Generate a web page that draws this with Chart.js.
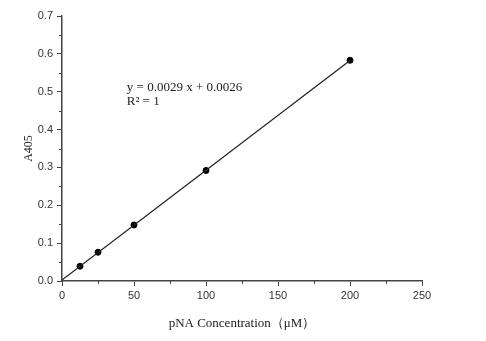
<!DOCTYPE html>
<html>
<head>
<meta charset="utf-8">
<script src="https://cdn.jsdelivr.net/npm/chart.js@4"></script>
<style>
  html, body { margin: 0; padding: 0; background: #fff; }
  #wrap { width: 486px; height: 341px; }
</style>
</head>
<body>
<div id="wrap"><canvas id="stdCurve"></canvas></div>
<script>
// pNA standard curve
var concentrations = [12.5, 25, 50, 100, 200];
var absorbance = [0.039, 0.076, 0.148, 0.292, 0.583];
var fitX = [0, 200];
var fitY = [0.0026, 0.5826];
var xTicks = [0, 50, 100, 150, 200, 250];
var yTicks = [0.0, 0.1, 0.2, 0.3, 0.4, 0.5, 0.6, 0.7];
var xMinor = [25, 75, 125, 175, 225];
var yMinor = [0.05, 0.15, 0.25, 0.35, 0.45, 0.55, 0.65];
var equationLines = ['y = 0.0029 x + 0.0026', 'R\u00b2 = 1'];

var axisColor = '#444';

var minorTicks = {
  id: 'minorTicks',
  afterDraw(chart) {
    var ctx = chart.ctx;
    var xs = chart.scales.x, ys = chart.scales.y;
    var area = chart.chartArea;
    ctx.save();
    ctx.strokeStyle = axisColor;
    ctx.lineWidth = 1;
    ctx.beginPath();
    xMinor.forEach(function (v) {
      var px = Math.round(xs.getPixelForValue(v)) + 0.5;
      ctx.moveTo(px, area.bottom);
      ctx.lineTo(px, area.bottom + 3);
    });
    yMinor.forEach(function (v) {
      var py = Math.round(ys.getPixelForValue(v)) + 0.5;
      ctx.moveTo(area.left, py);
      ctx.lineTo(area.left - 3, py);
    });
    ctx.stroke();

    // equation text
    ctx.fillStyle = '#222';
    ctx.font = '13px "Liberation Serif", "Times New Roman", serif';
    ctx.textBaseline = 'middle';
    ctx.textAlign = 'left';
    var tx = xs.getPixelForValue(45);
    var ty = ys.getPixelForValue(0.512);
    equationLines.forEach(function (t, i) {
      ctx.fillText(t, tx, ty + i * 14);
    });
    ctx.restore();
  }
};

new Chart(document.getElementById('stdCurve').getContext('2d'), {
  type: 'scatter',
  data: {
    datasets: [
      {
        label: 'fit',
        data: fitX.map(function (x, i) { return { x: x, y: fitY[i] }; }),
        showLine: true,
        borderColor: '#222',
        borderWidth: 1.2,
        pointRadius: 0
      },
      {
        label: 'pNA',
        data: concentrations.map(function (x, i) { return { x: x, y: absorbance[i] }; }),
        backgroundColor: '#000',
        borderColor: '#000',
        pointRadius: 3
      }
    ]
  },
  options: {
    responsive: true,
    maintainAspectRatio: false,
    animation: false,
    layout: { padding: { left: 0, top: 16, right: 64, bottom: 0 } },
    plugins: { legend: { display: false }, tooltip: { enabled: false } },
    scales: {
      x: {
        type: 'linear',
        min: 0,
        max: 250,
        afterBuildTicks: function (s) { s.ticks = xTicks.map(function (v) { return { value: v }; }); },
        afterFit: function (s) { s.height = 60; },
        grid: { drawOnChartArea: false, tickLength: 5, tickColor: axisColor },
        border: { color: axisColor, width: 1.5 },
        ticks: {
          color: '#333',
          padding: 3,
          font: { family: '"Liberation Sans", Arial, sans-serif', size: 11 }
        },
        title: {
          display: true,
          text: 'pNA Concentration\uff08\u03bcM\uff09',
          color: '#222',
          font: { family: '"Liberation Serif", "Times New Roman", serif', size: 13 },
          padding: { top: 0, bottom: 10 }
        }
      },
      y: {
        type: 'linear',
        min: 0,
        max: 0.7,
        afterBuildTicks: function (s) { s.ticks = yTicks.map(function (v) { return { value: v }; }); },
        afterFit: function (s) { s.width = 62; },
        grid: { drawOnChartArea: false, tickLength: 5, tickColor: axisColor },
        border: { color: axisColor, width: 1.5 },
        ticks: {
          color: '#333',
          padding: 4,
          font: { family: '"Liberation Sans", Arial, sans-serif', size: 11 },
          callback: function (v) { return v.toFixed(1); }
        },
        title: {
          display: true,
          text: 'A405',
          color: '#222',
          font: { family: '"Liberation Serif", "Times New Roman", serif', size: 12 },
          padding: { top: 22, bottom: 0 }
        }
      }
    }
  },
  plugins: [minorTicks]
});
</script>
</body>
</html>
